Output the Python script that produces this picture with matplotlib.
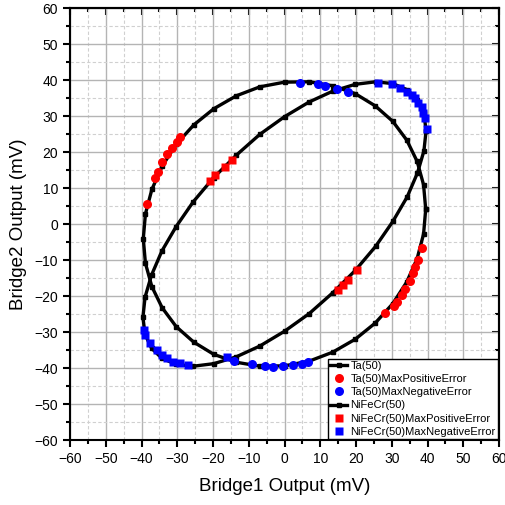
import matplotlib
matplotlib.use("Agg")
import matplotlib.pyplot as plt
from matplotlib.ticker import MultipleLocator

plt.rcParams['font.family'] = ['Liberation Sans', 'DejaVu Sans']

# Ta(50) loop
ta_x = [39.5, 38.9, 37.1, 34.2, 30.3, 25.4, 19.8, 13.5, 6.9, 0.0, -6.9, -13.5, -19.8, -25.4, -30.3, -34.2, -37.1, -38.9,
        -39.5, -38.9, -37.1, -34.2, -30.3, -25.4, -19.8, -13.5, -6.9, 0.0, 6.9, 13.5, 19.8, 25.4, 30.3, 34.2, 37.1, 38.9, 39.5]
ta_y = [4.1, 10.9, 17.4, 23.3, 28.5, 32.8, 36.2, 38.4, 39.5, 39.4, 38.1, 35.6, 32.0, 27.5, 22.1, 16.1, 9.6, 2.8,
        -4.1, -10.9, -17.4, -23.3, -28.5, -32.8, -36.2, -38.4, -39.5, -39.4, -38.1, -35.6, -32.0, -27.5, -22.1, -16.1, -9.6, -2.8, 4.1]

# NiFeCr(50) loop
nf_x = [39.6, 39.0, 37.2, 34.3, 30.3, 25.5, 19.8, 13.5, 6.9, 0.0, -6.9, -13.5, -19.8, -25.5, -30.3, -34.3, -37.2, -39.0,
        -39.6, -39.0, -37.2, -34.3, -30.3, -25.5, -19.8, -13.5, -6.9, 0.0, 6.9, 13.5, 19.8, 25.5, 30.3, 34.3, 37.2, 39.0, 39.6]
nf_y = [25.9, 30.7, 34.5, 37.3, 39.0, 39.5, 38.8, 36.9, 33.9, 29.8, 24.9, 19.1, 12.9, 6.2, -0.7, -7.5, -14.2, -20.3,
        -25.9, -30.7, -34.5, -37.3, -39.0, -39.5, -38.8, -36.9, -33.9, -29.8, -24.9, -19.1, -12.9, -6.2, 0.7, 7.5, 14.2, 20.3, 25.9]

# Ta(50) error points
ta_pos_x = [-38.6, -36.2, -35.4, -34.3, -32.8, -31.5, -30.2, -29.2, 28.1, 30.5, 31.5, 33.0, 33.7, 35.0, 35.9, 36.6, 37.3, 38.5]
ta_pos_y = [5.6, 12.8, 14.4, 17.2, 19.4, 21.1, 22.8, 24.2, -24.7, -22.8, -21.7, -19.6, -18.1, -15.8, -13.6, -12.0, -10.0, -6.7]
ta_neg_x = [4.3, 9.4, 11.3, 14.7, 17.8, -14.1, -9.1, -5.5, -3.2, -0.4, 2.4, 4.9, 6.6]
ta_neg_y = [39.3, 38.9, 38.4, 37.6, 36.6, -38.0, -38.8, -39.4, -39.6, -39.5, -39.2, -38.8, -38.4]

# NiFeCr(50) error points
nf_pos_x = [-20.8, -19.4, -16.6, -14.7, 15.0, 16.5, 17.8, 20.3]
nf_pos_y = [12.0, 13.6, 15.8, 17.8, -18.3, -17.0, -15.6, -12.8]
nf_neg_x = [-39.2, -39.0, -37.6, -35.7, -34.3, -32.9, -31.2, -29.2, -27.0, -16.1,
            26.2, 30.1, 32.3, 34.3, 35.7, 36.5, 37.3, 38.5, 38.7, 39.3, 39.9]
nf_neg_y = [-29.4, -30.8, -33.1, -35.0, -36.4, -37.2, -38.3, -38.6, -39.2, -36.9,
            39.2, 38.8, 37.8, 36.7, 35.8, 35.0, 33.6, 32.5, 30.8, 29.4, 26.4]

fig = plt.figure(figsize=(5.06, 5.05), dpi=100)
ax = fig.add_axes([70/506, 1-440/505, 429/506, 432/505])

ax.plot(ta_x, ta_y, '-', color='black', lw=2.4, marker='s', ms=2.8, label='Ta(50)', zorder=3)
ax.plot(ta_pos_x, ta_pos_y, 'o', color='#ff0000', ms=6.5, mec='none', label='Ta(50)MaxPositiveError', zorder=4)
ax.plot(ta_neg_x, ta_neg_y, 'o', color='#0000ff', ms=6.5, mec='none', label='Ta(50)MaxNegativeError', zorder=4)
ax.plot(nf_x, nf_y, '-', color='black', lw=2.4, marker='s', ms=2.8, label='NiFeCr(50)', zorder=3)
ax.plot(nf_pos_x, nf_pos_y, 's', color='#ff0000', ms=5.5, mec='none', label='NiFeCr(50)MaxPositiveError', zorder=4)
ax.plot(nf_neg_x, nf_neg_y, 's', color='#0000ff', ms=5.5, mec='none', label='NiFeCr(50)MaxNegativeError', zorder=4)

ax.set_xlim(-60, 60)
ax.set_ylim(-60, 60)
ax.xaxis.set_major_locator(MultipleLocator(10))
ax.yaxis.set_major_locator(MultipleLocator(10))
ax.xaxis.set_minor_locator(MultipleLocator(5))
ax.yaxis.set_minor_locator(MultipleLocator(5))

ax.grid(which='major', color='#b4b4b4', lw=1.0, ls='-', zorder=0)
ax.grid(which='minor', color='#d0d0d0', lw=0.8, ls=(0, (3, 2)), zorder=0)
ax.set_axisbelow(True)

for sp in ax.spines.values():
    sp.set_linewidth(1.5)

ax.tick_params(which='both', direction='out', width=1.5, labelsize=10, top=False, right=False)
ax.tick_params(which='major', length=5)
ax.tick_params(which='minor', length=3)
# inward ticks on top and right
secx = ax.secondary_xaxis('top')
secx.xaxis.set_major_locator(MultipleLocator(10))
secx.xaxis.set_minor_locator(MultipleLocator(5))
secx.tick_params(which='both', direction='in', width=1.5, labeltop=False)
secx.tick_params(which='major', length=5)
secx.tick_params(which='minor', length=3)
secx.spines['top'].set_linewidth(1.5)
secy = ax.secondary_yaxis('right')
secy.yaxis.set_major_locator(MultipleLocator(10))
secy.yaxis.set_minor_locator(MultipleLocator(5))
secy.tick_params(which='both', direction='in', width=1.5, labelright=False)
secy.tick_params(which='major', length=5)
secy.tick_params(which='minor', length=3)
secy.spines['right'].set_linewidth(1.5)

ax.set_xlabel('Bridge1 Output (mV)', fontsize=13.5, labelpad=9)
ax.set_ylabel('Bridge2 Output (mV)', fontsize=13.5, labelpad=5)

leg = ax.legend(loc='lower right', fontsize=8, frameon=True, fancybox=False,
                edgecolor='black', borderaxespad=0.1, labelspacing=0.28,
                handlelength=1.5, handletextpad=0.3, borderpad=0.2, framealpha=1)
leg.get_frame().set_linewidth(1.0)

fig.savefig('out.png', dpi=100)
